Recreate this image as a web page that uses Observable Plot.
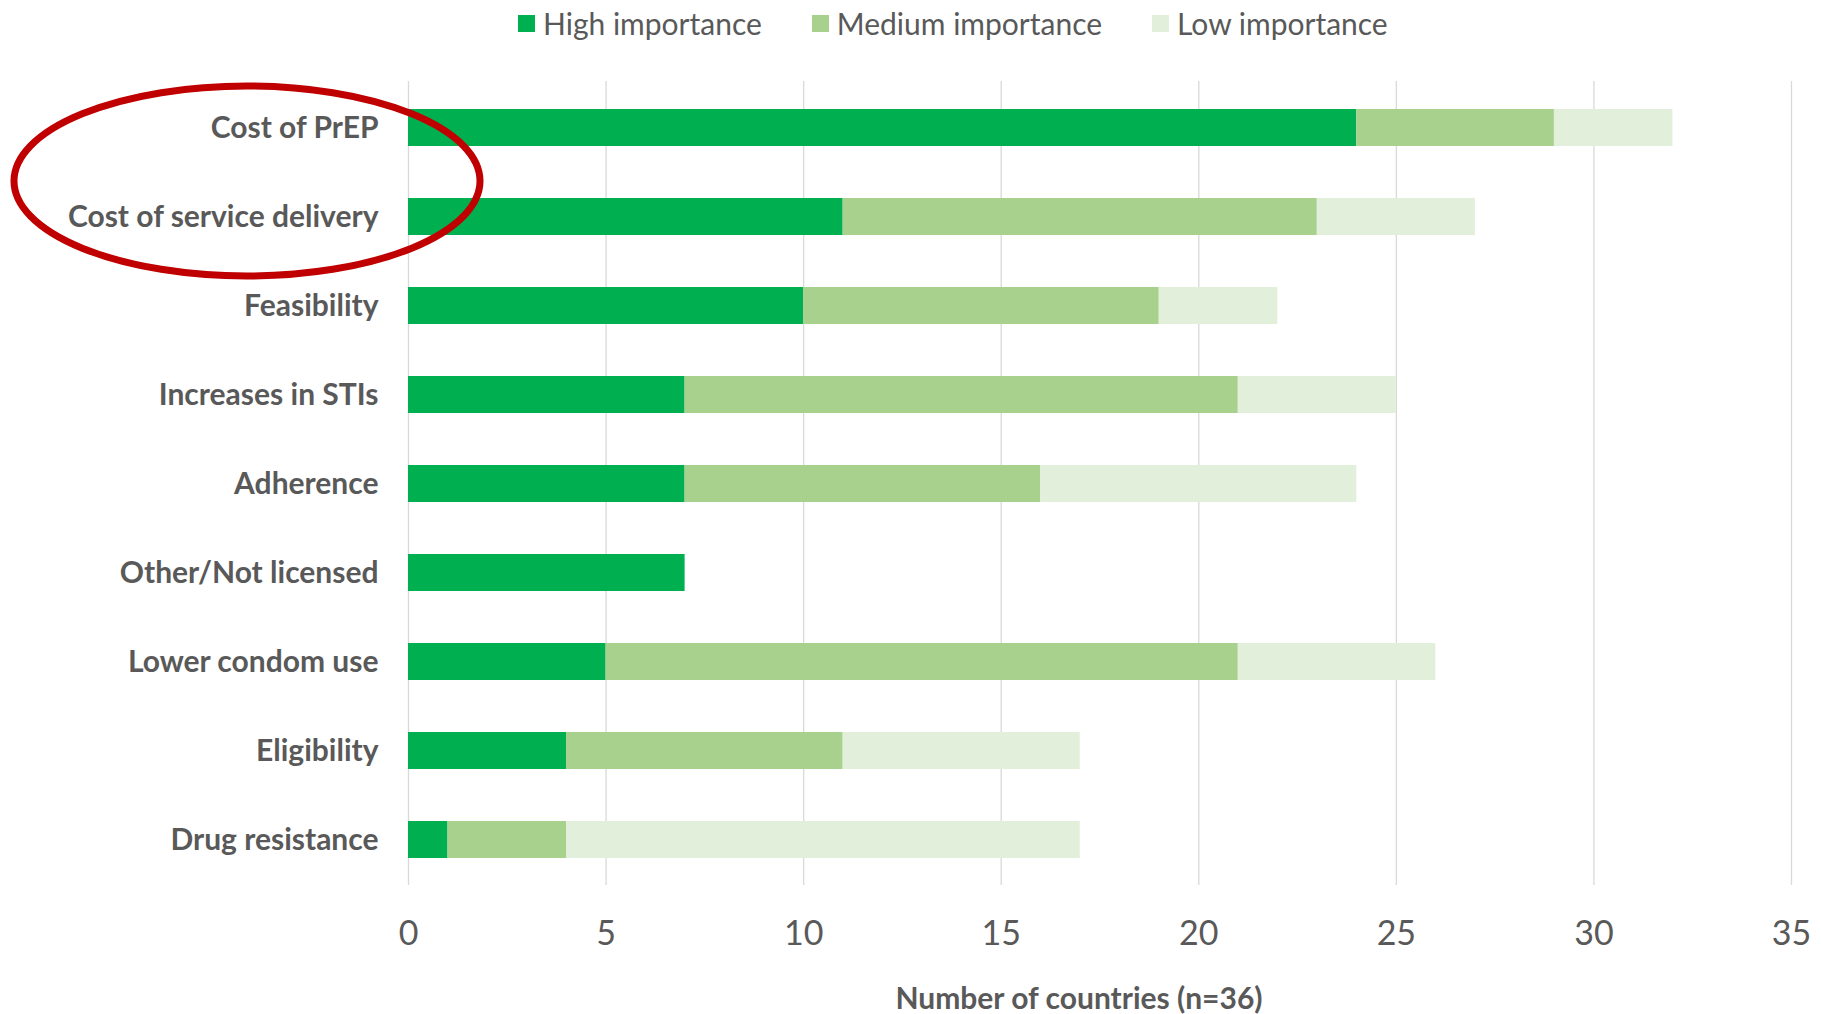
<!DOCTYPE html>
<html><head><meta charset="utf-8">
<script src="https://cdn.jsdelivr.net/npm/d3@7"></script>
<script src="https://cdn.jsdelivr.net/npm/@observablehq/plot@0.6"></script>
<style>
body{margin:0;background:#fff;font-family:Lato,sans-serif;}
#legend{height:46px;display:flex;align-items:center;padding-left:518px;color:#595959;font-size:30px;}
.item{display:flex;align-items:center;margin-right:50px;}
.sw{width:17px;height:17px;margin-right:8px;}
</style></head><body>
<div id="legend"></div><div id="chart"></div>
<script>
const categories = ["Cost of PrEP","Cost of service delivery","Feasibility","Increases in STIs","Adherence","Other/Not licensed","Lower condom use","Eligibility","Drug resistance"];
const high   = [24,11,10,7,7,7,5,4,1];
const medium = [5,12,9,14,9,0,16,7,3];
const low    = [3,4,3,4,8,0,5,6,13];
const levels = ["High importance","Medium importance","Low importance"];
const colors = ["#00B050","#A9D18E","#E2EFDA"];
const xTicks = [0,5,10,15,20,25,30,35];
const xLabel = "Number of countries (n=36)";

const series = [high, medium, low];
const data = [];
categories.forEach((c,i)=>levels.forEach((l,j)=>data.push({category:c, level:l, value:series[j][i]})));

const leg = document.getElementById("legend");
levels.forEach((l,j)=>{
  const it = document.createElement("div"); it.className="item";
  const sw = document.createElement("div"); sw.className="sw"; sw.style.background=colors[j];
  const tx = document.createElement("span"); tx.textContent=l;
  it.appendChild(sw); it.appendChild(tx); leg.appendChild(it);
});

const chart = Plot.plot({
  width:1821, height:968,
  marginTop:35, marginBottom:129, marginLeft:408, marginRight:30,
  style:{fontFamily:"Lato, sans-serif", color:"#595959", background:"#fff", overflow:"visible"},
  x:{domain:[0,35], ticks:xTicks},
  y:{domain:categories, paddingInner:0.586, paddingOuter:0.293},
  color:{domain:levels, range:colors},
  marks:[
    Plot.gridX(xTicks,{stroke:"#D9D9D9", strokeOpacity:1, strokeWidth:1.3}),
    Plot.barX(data, Plot.stackX({x:"value", y:"category", fill:"level", order:levels})),
    Plot.axisX(xTicks,{tickSize:0, tickPadding:35, fontSize:34, label:null}),
    Plot.axisY({tickSize:0, tickPadding:30, fontSize:30, fontWeight:"bold", label:null}),
    Plot.text([xLabel],{frameAnchor:"bottom", dy:123, dx:-21, fontSize:30, fontWeight:"bold", fill:"#595959"})
  ]
});
const xs = chart.scale("x"), ys = chart.scale("y");
const cy = (ys.apply(categories[0]) + ys.apply(categories[1]))/2 + ys.bandwidth/2 + 9;
const cx = xs.apply(0) - 161;
d3.select(chart).append("ellipse")
  .attr("cx",cx).attr("cy",cy).attr("rx",233).attr("ry",95)
  .attr("fill","none").attr("stroke","#C00000").attr("stroke-width",7);
document.getElementById("chart").appendChild(chart);
</script>
</body></html>
